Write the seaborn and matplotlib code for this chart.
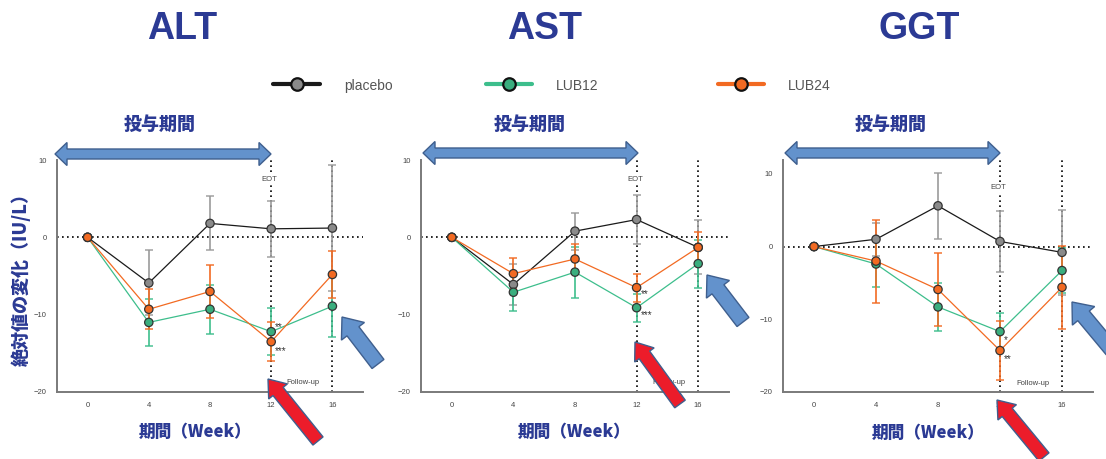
import numpy as np
import pandas as pd
import matplotlib
matplotlib.use("Agg")
import matplotlib.pyplot as plt
import seaborn as sns
from matplotlib.lines import Line2D
from matplotlib.patches import Polygon

# ---- data (mean change and SD) ----
weeks = [0, 4, 8, 12, 16]
groups = ["placebo", "LUB12", "LUB24"]
panel_titles = ["ALT", "AST", "GGT"]

alt_placebo = [0, -5.9, 1.8, 1.1, 1.2]
alt_placebo_sd = [0, 4.2, 3.5, 3.6, 8.1]
alt_lub12 = [0, -11.0, -9.3, -12.2, -8.9]
alt_lub12_sd = [0, 3.0, 3.2, 3.0, 4.0]
alt_lub24 = [0, -9.3, -7.0, -13.5, -4.8]
alt_lub24_sd = [0, 2.6, 3.4, 2.5, 3.0]

ast_placebo = [0, -6.1, 0.8, 2.3, -1.3]
ast_placebo_sd = [0, 2.6, 2.4, 3.2, 3.5]
ast_lub12 = [0, -7.1, -4.5, -9.1, -3.4]
ast_lub12_sd = [0, 2.4, 3.3, 1.8, 3.1]
ast_lub24 = [0, -4.7, -2.8, -6.5, -1.3]
ast_lub24_sd = [0, 2.0, 1.9, 1.8, 2.0]

ggt_placebo = [0, 1.0, 5.6, 0.7, -0.8]
ggt_placebo_sd = [0, 2.3, 4.5, 4.2, 5.8]
ggt_lub12 = [0, -2.4, -8.3, -11.7, -3.3]
ggt_lub12_sd = [0, 3.1, 3.3, 2.6, 3.1]
ggt_lub24 = [0, -2.0, -5.9, -14.3, -5.6]
ggt_lub24_sd = [0, 5.7, 5.0, 4.1, 5.7]

# significance marks at week 12 (label, y)
alt_stars = [("**", -11.6), ("***", -14.7)]
ast_stars = [("**", -7.4), ("***", -10.1)]
ggt_stars = [("*", -12.8), ("**", -15.5)]

yticks = [-20, -10, 0, 10]

panels = [
    (alt_placebo, alt_placebo_sd, alt_lub12, alt_lub12_sd, alt_lub24, alt_lub24_sd, alt_stars, 10),
    (ast_placebo, ast_placebo_sd, ast_lub12, ast_lub12_sd, ast_lub24, ast_lub24_sd, ast_stars, 10),
    (ggt_placebo, ggt_placebo_sd, ggt_lub12, ggt_lub12_sd, ggt_lub24, ggt_lub24_sd, ggt_stars, 11.9),
]

# ---- style ----
sns.set_style("white")
plt.rcParams["font.family"] = ["Liberation Sans", "Noto Sans CJK JP", "DejaVu Sans"]
cjk = ["Noto Sans CJK JP", "DejaVu Sans"]

navy = "#2B3A94"
line_col = {"placebo": "#1a1a1a", "LUB12": "#3DBE8C", "LUB24": "#F26A22"}
face_col = {"placebo": "#8a8a8a", "LUB12": "#3AAE7E", "LUB24": "#F26A22"}
err_col = {"placebo": "#9a9a9a", "LUB12": "#3DBE8C", "LUB24": "#F26A22"}

W, H = 1106, 459
fig = plt.figure(figsize=(W / 100, H / 100), dpi=100)


def fx(x, y):
    return (x / W, 1 - y / H)


# axes rectangles in pixel terms (left, right)
ax_lr = [(57, 363), (421, 729), (783, 1093)]
ax_top, ax_bot = 160, 392

for i, (pl, pl_sd, l12, l12_sd, l24, l24_sd, stars, ytop) in enumerate(panels):
    left, right = ax_lr[i]
    ax = fig.add_axes([left / W, 1 - ax_bot / H, (right - left) / W, (ax_bot - ax_top) / H])

    df = pd.DataFrame({
        "week": weeks * 3,
        "value": pl + l12 + l24,
        "sd": pl_sd + l12_sd + l24_sd,
        "group": [g for g in groups for _ in weeks],
    })

    ax.axhline(0, color="black", ls=(0, (1, 2)), lw=1.2, zorder=1)
    ax.axvline(12, color="black", ls=(0, (1, 2)), lw=1.2, zorder=1)
    ax.axvline(16, color="black", ls=(0, (1, 2)), lw=1.2, zorder=1)

    for g in groups:
        d = df[df["group"] == g]
        ax.errorbar(d["week"], d["value"], yerr=d["sd"], fmt="none",
                    ecolor=err_col[g], elinewidth=1.4, capsize=2.8, capthick=1.2,
                    alpha=0.85, zorder=2)

    sns.lineplot(data=df, x="week", y="value", hue="group", palette=line_col,
                 linewidth=0.9, legend=False, ax=ax, zorder=3)
    sns.scatterplot(data=df, x="week", y="value", hue="group", palette=face_col,
                    s=36, edgecolor="#333333", linewidth=0.9, legend=False, ax=ax, zorder=4)

    ax.set_xlim(-2, 18)
    ax.set_ylim(-20, ytop)
    ax.set_xticks(weeks)
    ax.set_yticks(yticks)
    ax.tick_params(labelsize=5.5, labelcolor="#444444", length=2.5, width=1,
                   color="#777777", pad=5)
    ax.set_xlabel("")
    ax.set_ylabel("")
    for s in ["top", "right"]:
        ax.spines[s].set_visible(False)
    for s in ["left", "bottom"]:
        ax.spines[s].set_color("#7a7a7a")
        ax.spines[s].set_linewidth(1.4)

    eot_y = 7.5 if i < 2 else 8.1
    ax.text(11.9, eot_y, "EOT", fontsize=5.5, color="#444444", ha="center", va="center",
            bbox=dict(facecolor="white", edgecolor="none", pad=1.5), zorder=5)
    ax.text(14.1, -18.8, "Follow-up", fontsize=5.5, color="#444444", ha="center",
            va="center", zorder=5)
    for lab, yy in stars:
        ax.text(12.25, yy, lab, fontsize=7, color="#333333", ha="left", va="center", zorder=5)

# ---- titles and labels ----
title_pos = [(182, 29), (545, 29), (919, 29)]
for t, (x, y) in zip(panel_titles, title_pos):
    fig.text(*fx(x, y), t, fontsize=27, fontweight="bold", color=navy,
             ha="center", va="center", family=["Liberation Sans"])

for x in [160, 530, 891]:
    fig.text(*fx(x, 124), "投与期間", fontsize=13, fontweight="heavy", color=navy,
             ha="center", va="center", family=cjk)

for x, y in [(195, 432), (574, 432), (928, 433)]:
    fig.text(*fx(x, y), "期間（Week）", fontsize=12, fontweight="heavy", color=navy,
             ha="center", va="center", family=cjk)

fig.text(*fx(21, 275), "絶対値の変化（IU/L）", fontsize=13, fontweight="heavy", color=navy,
         ha="center", va="center", rotation=90, family=cjk)

# ---- legend drawn across the top ----
leg = [("placebo", 273, 320), ("LUB12", 486, 532), ("LUB24", 718, 764)]
for g, x0, x1 in leg:
    (a, b), (c, d) = fx(x0, 84), fx(x1, 84)
    fig.add_artist(Line2D([a, c], [b, d], transform=fig.transFigure,
                          color=line_col[g], lw=3))
    fig.add_artist(Line2D([(a + c) / 2], [b], transform=fig.transFigure, marker="o",
                          markersize=9, markerfacecolor=face_col[g],
                          markeredgecolor="#111111", markeredgewidth=1.6, lw=0))
    fig.text(*fx(x1 + 24, 86), g, fontsize=10, color="#555555", ha="left", va="center")


# ---- decorative arrows ----
def arrow_poly(tail, tip, w, hw, hl):
    tail = np.array(tail, float)
    tip = np.array(tip, float)
    u = (tip - tail) / np.linalg.norm(tip - tail)
    n = np.array([-u[1], u[0]])
    base = tip - u * hl
    pts = [tail + n * w / 2, base + n * w / 2, base + n * hw / 2, tip,
           base - n * hw / 2, base - n * w / 2, tail - n * w / 2]
    return [fx(p[0], p[1]) for p in pts]


def double_arrow(x0, x1, yc, h=5, hh=11.5, hl=12):
    pts = [(x0, yc), (x0 + hl, yc - hh), (x0 + hl, yc - h), (x1 - hl, yc - h),
           (x1 - hl, yc - hh), (x1, yc), (x1 - hl, yc + hh), (x1 - hl, yc + h),
           (x0 + hl, yc + h), (x0 + hl, yc + hh)]
    return [fx(x, y) for x, y in pts]


blue = "#6392CC"
edge = "#3F5F8E"
for x0, x1, yc in [(55, 271, 154), (423, 638, 153), (785, 1000, 153)]:
    fig.add_artist(Polygon(double_arrow(x0, x1, yc), closed=True, transform=fig.transFigure,
                           facecolor=blue, edgecolor=edge, lw=1, zorder=10))

for tail, tip in [((318, 441), (268, 379)), ((680, 404), (635, 342)), ((1044, 457), (997, 400))]:
    fig.add_artist(Polygon(arrow_poly(tail, tip, 13, 24, 16), closed=True,
                           transform=fig.transFigure, facecolor="#EC1C2A",
                           edgecolor=edge, lw=1, zorder=10))

for tail, tip in [((378, 364), (342, 317)), ((743, 322), (707, 275)), ((1112, 350), (1072, 302))]:
    fig.add_artist(Polygon(arrow_poly(tail, tip, 15, 29, 18), closed=True,
                           transform=fig.transFigure, facecolor=blue,
                           edgecolor=edge, lw=1, zorder=10))

fig.savefig("out.png", dpi=100, facecolor="white")
